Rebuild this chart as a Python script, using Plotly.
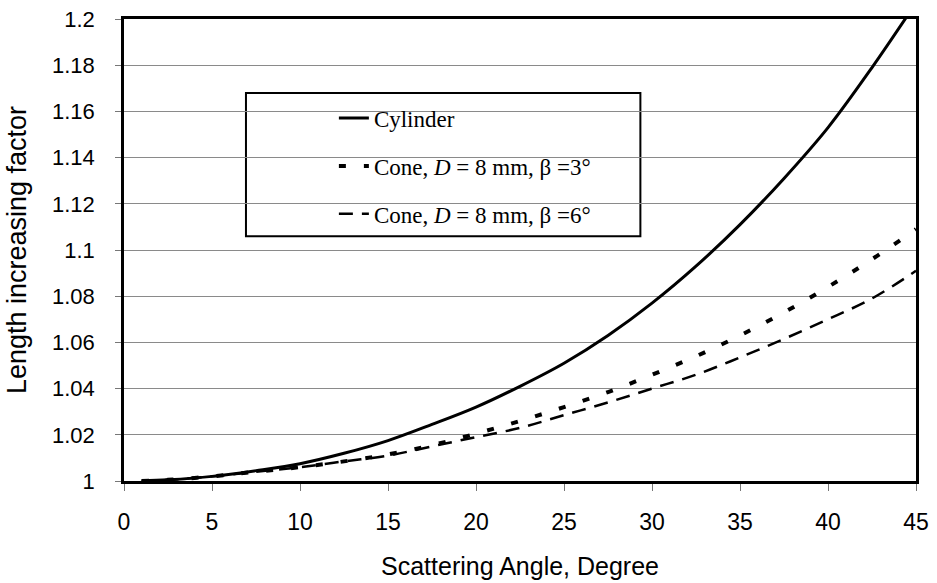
import plotly.graph_objects as go

# Data
x_cyl = [1, 2.5, 5, 7.5, 10, 12.5, 15, 17.5, 20, 22.5, 25, 27.5, 30, 32.5, 35, 37.5, 40, 42.5, 45]
y_cyl = [1.000, 1.0005, 1.002, 1.0045, 1.0075, 1.012, 1.0175, 1.0245, 1.032, 1.041, 1.051,
         1.063, 1.077, 1.093, 1.111, 1.131, 1.153, 1.179, 1.207]

x_cone3 = [1, 2.5, 5, 7.5, 10, 12.5, 15, 17.5, 20, 22.5, 25, 27.5, 30, 32.5, 35, 37.5, 40, 42.5, 45]
y_cone3 = [1.000, 1.0005, 1.002, 1.004, 1.006, 1.0085, 1.0115, 1.0155, 1.0205, 1.026, 1.032,
           1.0385, 1.046, 1.054, 1.063, 1.073, 1.084, 1.096, 1.109]

x_cone6 = [1, 2.5, 5, 7.5, 10, 12.5, 15, 17.5, 20, 22.5, 25, 27.5, 30, 32.5, 35, 37.5, 40, 42.5, 45]
y_cone6 = [1.000, 1.0005, 1.002, 1.004, 1.006, 1.0085, 1.011, 1.015, 1.019, 1.023, 1.0285,
           1.034, 1.040, 1.046, 1.0535, 1.0615, 1.070, 1.079, 1.091]

names = ["Cylinder",
         "Cone, <i>D</i> = 8 mm, \u03b2 =3\u00b0",
         "Cone, <i>D</i> = 8 mm, \u03b2 =6\u00b0"]

y_tickvals = [1, 1.02, 1.04, 1.06, 1.08, 1.1, 1.12, 1.14, 1.16, 1.18, 1.2]
y_ticktext = ["1", "1.02", "1.04", "1.06", "1.08", "1.1", "1.12", "1.14", "1.16", "1.18", "1.2"]
x_tickvals = [0, 5, 10, 15, 20, 25, 30, 35, 40, 45]

fig = go.Figure()
fig.add_trace(go.Scatter(x=x_cyl, y=y_cyl, mode="lines", name=names[0], legendgroup="a",
                         line=dict(color="black", width=3, shape="spline")))
fig.add_trace(go.Scatter(x=x_cone3, y=y_cone3, mode="lines", name=names[1], legendgroup="b",
                         line=dict(color="black", width=4, dash="7px,18px", shape="spline")))
fig.add_trace(go.Scatter(x=x_cone6, y=y_cone6, mode="lines", name=names[2], legendgroup="c",
                         line=dict(color="black", width=2.5, dash="14px,9px", shape="spline")))

fig.update_layout(
    width=937, height=583,
    margin=dict(l=124, r=21, t=19, b=102),
    paper_bgcolor="white", plot_bgcolor="white",
    font=dict(family="Liberation Sans, Arial", size=18, color="black"),
    showlegend=True,
    legend=dict(x=0.265, y=0.832, xanchor="left", yanchor="top",
                bgcolor="rgba(0,0,0,0)", borderwidth=0,
                font=dict(family="Liberation Serif, Times New Roman", size=23, color="black"),
                tracegroupgap=15),
    shapes=[dict(type="rect", xref="paper", yref="paper", x0=0.154, x1=0.652, y0=0.530, y1=0.840,
                 line=dict(color="black", width=2), fillcolor="white", layer="below")],
)
fig.update_xaxes(range=[0, 45], tickvals=x_tickvals, showgrid=False, zeroline=False,
                 showline=True, linecolor="black", linewidth=2.5, mirror=True,
                 ticks="outside", ticklen=7, tickcolor="#777", tickwidth=1,
                 ticklabelstandoff=12, automargin=False,
                 title=dict(text="Scattering Angle, Degree", font=dict(size=25), standoff=24),
                 tickfont=dict(size=23))
fig.update_yaxes(range=[1, 1.2], tickvals=y_tickvals, ticktext=y_ticktext,
                 showgrid=True, gridcolor="#8a8a8a", gridwidth=1, zeroline=False,
                 showline=True, linecolor="black", linewidth=2.5, mirror=True,
                 ticks="outside", ticklen=6, tickcolor="#777", tickwidth=1,
                 ticklabelstandoff=16, automargin=False,
                 title=dict(text="Length increasing factor", font=dict(size=27), standoff=18),
                 tickfont=dict(size=22))

fig.write_html("out.html")
